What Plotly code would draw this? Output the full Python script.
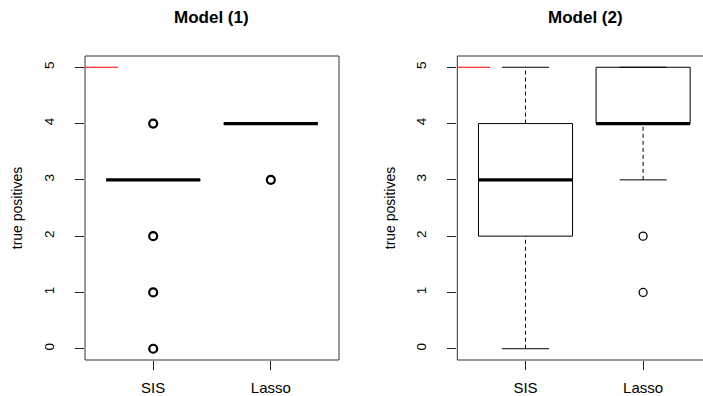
import plotly.graph_objects as go

# ---- data ----
categories = ["SIS", "Lasso"]
positions = [1, 2]

# Model (1) box statistics
m1_q1 = [3, 4]
m1_median = [3, 4]
m1_q3 = [3, 4]
m1_lo = [3, 4]
m1_hi = [3, 4]
m1_outliers = [[4, 2, 1, 0], [3]]

# Model (2) box statistics
m2_q1 = [2, 4]
m2_median = [3, 4]
m2_q3 = [4, 5]
m2_lo = [0, 3]
m2_hi = [5, 5]
m2_outliers = [[], [2, 1]]

yticks = [0, 1, 2, 3, 4, 5]
red_x = [0.3, 0.7]
red_y = [5, 5]

W, H = 703, 396
fig = go.Figure()

BOXHW = 0.4
CAPHW = 0.2


def add_panel(q1, med, q3, lo, hi, outl, xa, ya, olw):
    for i, p in enumerate(positions):
        # whiskers (dashed)
        fig.add_trace(go.Scatter(x=[p, p], y=[q3[i], hi[i]], mode="lines",
                                 line=dict(color="black", width=1, dash="4px,3px"),
                                 xaxis=xa, yaxis=ya, showlegend=False, hoverinfo="skip"))
        fig.add_trace(go.Scatter(x=[p, p], y=[lo[i], q1[i]], mode="lines",
                                 line=dict(color="black", width=1, dash="4px,3px"),
                                 xaxis=xa, yaxis=ya, showlegend=False, hoverinfo="skip"))
        # caps
        for v in (lo[i], hi[i]):
            fig.add_trace(go.Scatter(x=[p - CAPHW, p + CAPHW], y=[v, v], mode="lines",
                                     line=dict(color="black", width=1),
                                     xaxis=xa, yaxis=ya, showlegend=False, hoverinfo="skip"))
        # box
        fig.add_trace(go.Scatter(x=[p - BOXHW, p + BOXHW, p + BOXHW, p - BOXHW, p - BOXHW],
                                 y=[q1[i], q1[i], q3[i], q3[i], q1[i]], mode="lines",
                                 line=dict(color="black", width=1),
                                 xaxis=xa, yaxis=ya, showlegend=False, hoverinfo="skip"))
        # median
        fig.add_trace(go.Scatter(x=[p - BOXHW, p + BOXHW], y=[med[i], med[i]], mode="lines",
                                 line=dict(color="black", width=3.2),
                                 xaxis=xa, yaxis=ya, showlegend=False, hoverinfo="skip"))
        # outliers
        if outl[i]:
            fig.add_trace(go.Scatter(x=[p] * len(outl[i]), y=outl[i], mode="markers",
                                     marker=dict(symbol="circle-open", size=8, color="black",
                                                 line=dict(width=olw, color="black")),
                                     xaxis=xa, yaxis=ya, showlegend=False, hoverinfo="skip"))
    fig.add_trace(go.Scatter(x=red_x, y=red_y, mode="lines",
                             line=dict(color="red", width=1),
                             xaxis=xa, yaxis=ya, showlegend=False, hoverinfo="skip"))


add_panel(m1_q1, m1_median, m1_q3, m1_lo, m1_hi, m1_outliers, "x", "y", 2.2)
add_panel(m2_q1, m2_median, m2_q3, m2_lo, m2_hi, m2_outliers, "x2", "y2", 1.3)

FONT = "Liberation Sans, Arial, sans-serif"
ydom = [1 - 360 / H, 1 - 56 / H]
p1 = [85 / W, 339 / W]
p2 = [457.3 / W, 1.0]
px_per_unit = (339 - 85) / 2.16
x2max = 0.42 + (W - 457.3) / px_per_unit

xcommon = dict(tickmode="array", tickvals=positions, ticktext=categories,
               ticks="outside", ticklen=9, tickcolor="#222", tickwidth=1,
               showgrid=False, zeroline=False, showline=False, ticklabelstandoff=5,
               tickfont=dict(family=FONT, size=15, color="black"))
ycommon = dict(tickmode="array", tickvals=yticks, ticktext=[str(v) for v in yticks],
               range=[-0.2, 5.2], ticks="outside", ticklen=9, tickcolor="#222", tickwidth=1,
               showgrid=False, zeroline=False, showline=False, tickangle=-90,
               ticklabelstandoff=16,
               tickfont=dict(family=FONT, size=13.5, color="black"),
               title=dict(text="true positives", font=dict(family=FONT, size=14, color="black"),
                          standoff=15))

fig.update_layout(
    width=W, height=H,
    margin=dict(l=0, r=0, t=0, b=0),
    paper_bgcolor="white", plot_bgcolor="white",
    xaxis=dict(xcommon, domain=p1, range=[0.42, 2.58], anchor="y"),
    yaxis=dict(ycommon, domain=ydom, anchor="x"),
    xaxis2=dict(xcommon, domain=p2, range=[0.42, x2max], anchor="y2"),
    yaxis2=dict(ycommon, domain=ydom, anchor="x2"),
    shapes=[
        dict(type="rect", xref="paper", yref="paper", x0=p1[0], x1=p1[1], y0=ydom[0], y1=ydom[1],
             line=dict(color="#333", width=1)),
        dict(type="rect", xref="paper", yref="paper", x0=p2[0], x1=711 / W, y0=ydom[0], y1=ydom[1],
             line=dict(color="#333", width=1)),
    ],
    annotations=[
        dict(text="<b>Model (1)</b>", xref="paper", yref="paper", x=212 / W, y=1 - 18 / H,
             showarrow=False, xanchor="center", yanchor="middle",
             font=dict(family=FONT, size=17, color="black")),
        dict(text="<b>Model (2)</b>", xref="paper", yref="paper", x=585 / W, y=1 - 18 / H,
             showarrow=False, xanchor="center", yanchor="middle",
             font=dict(family=FONT, size=17, color="black")),
    ],
)

fig.write_html("out.html", config={"displayModeBar": False},
               post_script="document.body.style.margin='0';document.body.style.overflow='hidden';")
